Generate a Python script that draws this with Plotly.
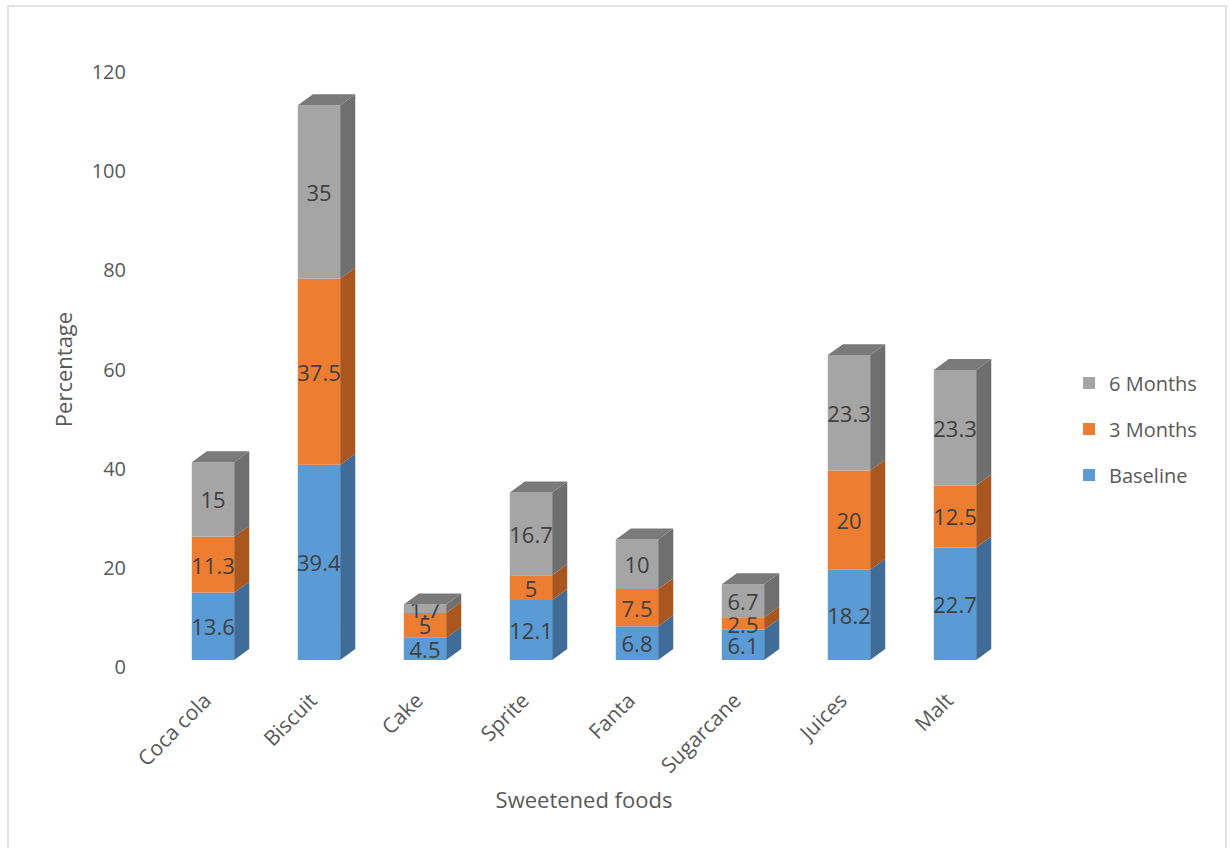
import plotly.graph_objects as go

# Sweetened food consumption over time (percent of respondents)
foods = ["Coca cola", "Biscuit", "Cake", "Sprite", "Fanta", "Sugarcane", "Juices", "Malt"]
baseline = [13.6, 39.4, 4.5, 12.1, 6.8, 6.1, 18.2, 22.7]
months3 = [11.3, 37.5, 5, 5, 7.5, 2.5, 20, 12.5]
months6 = [15, 35, 1.7, 16.7, 10, 6.7, 23.3, 23.3]
y_ticks = [0, 20, 40, 60, 80, 100, 120]

series = [
    ("Baseline", baseline, "#5B9BD5", "#3F6D98", 3),
    ("3 Months", months3, "#ED7D31", "#A9561F", 2),
    ("6 Months", months6, "#A5A5A5", "#6F6F6F", 1),
]
top_color = "#7A7A7A"

# pseudo-3D geometry: bar width and depth offset (x in category units, y in value units)
bar_w = 0.4
depth_dx = 0.142
depth_dy = 2.2

fig = go.Figure()
xs = list(range(len(foods)))
bottoms = [0.0] * len(foods)

# keeps the labelled value axis drawn
fig.add_trace(go.Scatter(
    x=[0], y=[0], mode="markers", marker=dict(opacity=0),
    showlegend=False, hoverinfo="skip",
))

for name, vals, col, side, rank in series:
    fig.add_trace(go.Bar(
        x=xs, y=vals, base=bottoms[:], width=bar_w, name=name,
        marker=dict(color=col, line=dict(width=0)),
        text=[f"{v:g}" for v in vals], textposition="inside",
        insidetextanchor="middle", textangle=0, constraintext="none",
        textfont=dict(size=22, color="#404040", family="Open Sans"),
        legendgroup=name, legendrank=rank, yaxis="y2", hoverinfo="skip",
    ))
    px, py = [], []
    for k, v in enumerate(vals):
        b, t = bottoms[k], bottoms[k] + v
        xr = k + bar_w / 2
        px += [xr, xr + depth_dx, xr + depth_dx, xr, xr, None]
        py += [b, b + depth_dy, t + depth_dy, t, b, None]
    fig.add_trace(go.Scatter(
        x=px, y=py, mode="lines", fill="toself", fillcolor=side,
        line=dict(width=0, color=side), showlegend=False, yaxis="y2",
        hoverinfo="skip",
    ))
    bottoms = [bottoms[k] + vals[k] for k in range(len(foods))]

# top faces of the stacks
tx, ty = [], []
for k, T in enumerate(bottoms):
    xl, xr = k - bar_w / 2, k + bar_w / 2
    tx += [xl, xl + depth_dx, xr + depth_dx, xr, xl, None]
    ty += [T, T + depth_dy, T + depth_dy, T, T, None]
fig.add_trace(go.Scatter(
    x=tx, y=ty, mode="lines", fill="toself", fillcolor=top_color,
    line=dict(width=0, color=top_color), showlegend=False, yaxis="y2",
    hoverinfo="skip",
))

axis_font = dict(family="Open Sans", size=20, color="#595959")
xtick_font = dict(family="Open Sans", size=21, color="#595959")
title_font = dict(family="Open Sans", size=22, color="#595959")
offset = 7 / 4.958  # floor of the bars sits slightly above the axis zero

fig.update_layout(
    width=1230, height=848,
    margin=dict(l=160, r=222, t=72, b=181),
    paper_bgcolor="white", plot_bgcolor="white",
    barmode="overlay",
    font=axis_font,
    showlegend=True,
    legend=dict(
        x=1.072, y=0.51, xanchor="left", yanchor="top",
        traceorder="grouped", tracegroupgap=17,
        font=dict(family="Open Sans", size=20, color="#595959"),
        itemwidth=30,
    ),
    xaxis=dict(
        range=[-0.5, 7.5], tickvals=xs, ticktext=foods, tickangle=-45,
        showgrid=False, zeroline=False, showline=False, ticks="",
        tickfont=xtick_font, ticklabelstandoff=16, ticklabelshift=-8,
        title=dict(text="Sweetened foods", font=title_font, standoff=14),
    ),
    yaxis=dict(
        range=[0, 120], tickvals=y_ticks, showgrid=False, zeroline=False,
        showline=False, ticks="", tickfont=axis_font, ticklabelstandoff=33,
        title=dict(text="Percentage", font=title_font, standoff=12),
    ),
    yaxis2=dict(
        range=[-offset, 120 - offset], overlaying="y", visible=False,
        showgrid=False, zeroline=False,
    ),
    shapes=[dict(
        type="rect", xref="paper", yref="paper",
        x0=(8 - 160) / 848, x1=(1226 - 160) / 848,
        y0=(667 - 852) / 595, y1=(667 - 6) / 595,
        line=dict(color="#D9D9D9", width=1.5), fillcolor="rgba(0,0,0,0)",
        layer="below",
    )],
)

fig.write_html("out.html")
